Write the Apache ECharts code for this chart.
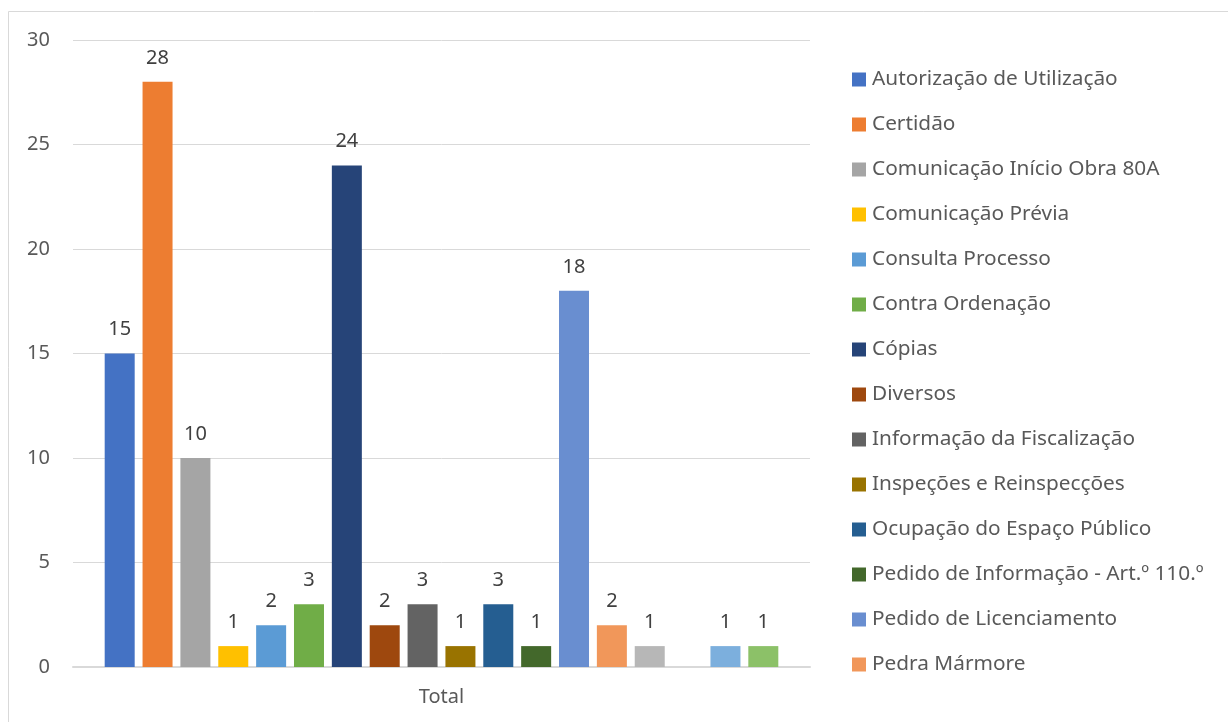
<!DOCTYPE html>
<html>
<head>
<meta charset="utf-8">
<script src="https://cdn.jsdelivr.net/npm/echarts@6/dist/echarts.min.js"></script>
<style>
html,body{margin:0;padding:0;background:#fff;}
#chart{width:1228px;height:722px;}
</style>
</head>
<body>
<div id="chart"></div>
<script>
const categories = ['Total'];
const seriesNames = [
  'Autorização de Utilização',
  'Certidão',
  'Comunicação Início Obra 80A',
  'Comunicação Prévia',
  'Consulta Processo',
  'Contra Ordenação',
  'Cópias',
  'Diversos',
  'Informação da Fiscalização',
  'Inspeções e Reinspecções',
  'Ocupação do Espaço Público',
  'Pedido de Informação - Art.º 110.º',
  'Pedido de Licenciamento',
  'Pedra Mármore',
  'Série 15',
  'Série 16',
  'Série 17',
  'Série 18'
];
const seriesValues = [15, 28, 10, 1, 2, 3, 24, 2, 3, 1, 3, 1, 18, 2, 1, null, 1, 1];
const legendNames = seriesNames.slice(0, 14);
const yTicks = [0, 5, 10, 15, 20, 25, 30];

const palette = ['#4472C4','#ED7D31','#A5A5A5','#FFC000','#5B9BD5','#70AD47',
  '#264478','#9E480E','#636363','#997300','#255E91','#43682B',
  '#698ED0','#F1975A','#B7B7B7','#FFCD33','#7CAFDD','#8CC168'];

const FONT = 'Noto Sans';
const chart = echarts.init(document.getElementById('chart'), null, {renderer: 'canvas'});

const series = seriesNames.map((name, i) => ({
  name: name,
  type: 'bar',
  data: [seriesValues[i]],
  barWidth: 30,
  barGap: '26.2%',
  itemStyle: {color: palette[i]},
  label: {
    show: true,
    position: 'top',
    distance: 14,
    color: '#404040',
    fontFamily: FONT,
    fontSize: 20
  }
}));

chart.setOption({
  animation: false,
  backgroundColor: '#ffffff',
  graphic: [{
    type: 'rect',
    shape: {x: 8.5, y: 11.5, width: 1400, height: 900},
    style: {fill: 'none', stroke: '#d9d9d9', lineWidth: 1},
    silent: true
  }],
  grid: {left: 73, right: 418, top: 40, bottom: 55, containLabel: false},
  legend: {
    data: legendNames,
    orient: 'vertical',
    left: 852,
    top: 69,
    padding: 0,
    itemWidth: 14,
    itemHeight: 14,
    itemGap: 24,
    icon: 'rect',
    textStyle: {color: '#595959', fontFamily: FONT, fontSize: 20.8, lineHeight: 20, padding: [0,0,0,1]}
  },
  xAxis: {
    type: 'category',
    data: categories,
    axisLine: {lineStyle: {color: '#d9d9d9', width: 2}},
    axisTick: {show: false},
    axisLabel: {color: '#595959', fontFamily: FONT, fontSize: 20, margin: 20}
  },
  yAxis: {
    type: 'value',
    min: yTicks[0],
    max: yTicks[yTicks.length - 1],
    interval: 5,
    axisLine: {show: false},
    axisTick: {show: false},
    splitLine: {lineStyle: {color: '#d9d9d9', width: 1}},
    axisLabel: {color: '#595959', fontFamily: FONT, fontSize: 20, margin: 23}
  },
  series: series
});
</script>
</body>
</html>
